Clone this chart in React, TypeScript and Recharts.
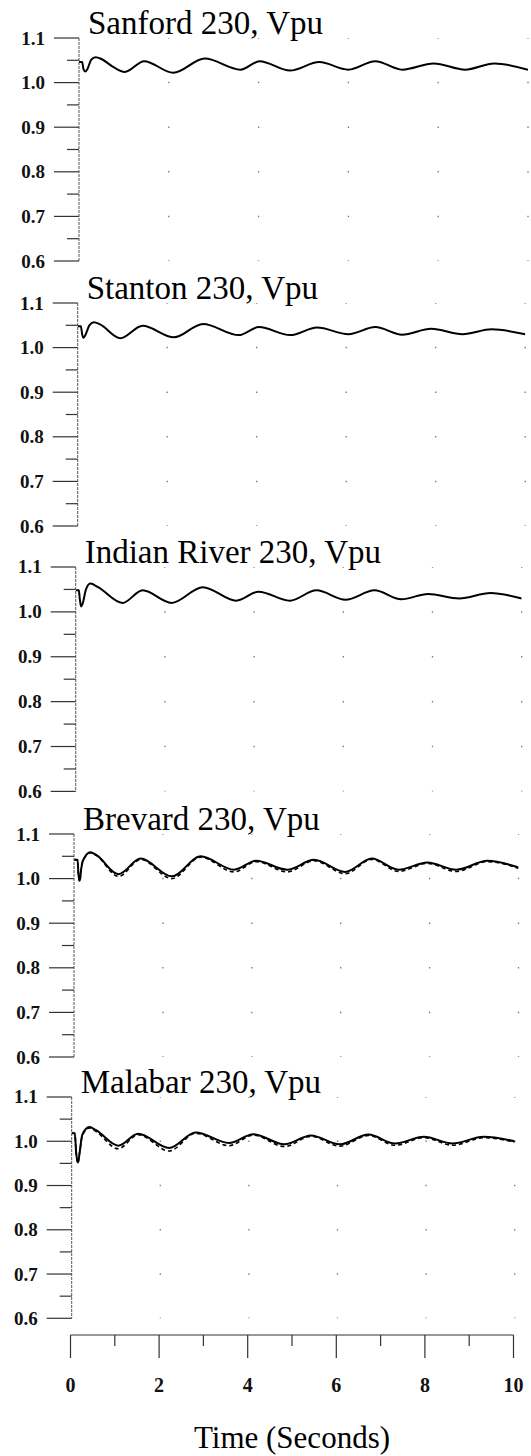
import React from "react";
import { ComposedChart, Line, XAxis, YAxis, ReferenceLine } from "recharts";

// ---- data (time in seconds, voltage in pu) ----
const timeTicks = [0, 1, 2, 3, 4, 5, 6, 7, 8, 9, 10];
const voltTicks = [0.6, 0.65, 0.7, 0.75, 0.8, 0.85, 0.9, 0.95, 1.0, 1.05, 1.1];
const gridTimes = [2, 4, 6, 8, 10];
const titles = ["Sanford 230, Vpu", "Stanton 230, Vpu", "Indian River 230, Vpu", "Brevard 230, Vpu", "Malabar 230, Vpu"];
const xTitle = "Time (Seconds)";

const sanford = [
  [0, 1.046], [0.07, 1.046], [0.1, 1.03], [0.14, 1.025], [0.19, 1.031], [0.27, 1.051], [0.37, 1.057], [0.5, 1.053],
  [0.75, 1.036], [1.02, 1.024], [1.45, 1.048], [2.1, 1.022], [2.8, 1.054], [3.6, 1.029], [4.02, 1.048],
  [4.7, 1.027], [5.35, 1.046], [6.0, 1.029], [6.6, 1.048], [7.2, 1.029], [7.9, 1.043], [8.6, 1.029],
  [9.25, 1.043], [10, 1.029],
];
const stanton = [
  [0, 1.048], [0.07, 1.048], [0.1, 1.03], [0.13, 1.022], [0.18, 1.03], [0.26, 1.05], [0.36, 1.057], [0.5, 1.052],
  [0.95, 1.021], [1.45, 1.049], [2.15, 1.023], [2.8, 1.053], [3.6, 1.028], [4.05, 1.046], [4.75, 1.028],
  [5.35, 1.045], [6.05, 1.03], [6.65, 1.046], [7.25, 1.029], [7.9, 1.042], [8.6, 1.03], [9.25, 1.041], [10, 1.03],
];
const indianRiver = [
  [0, 1.048], [0.07, 1.048], [0.09, 1.03], [0.12, 1.012], [0.16, 1.02], [0.23, 1.05], [0.33, 1.063], [0.5, 1.055],
  [1.05, 1.02], [1.5, 1.048], [2.15, 1.02], [2.85, 1.055], [3.6, 1.025], [4.1, 1.045], [4.8, 1.025],
  [5.4, 1.048], [6.05, 1.027], [6.7, 1.048], [7.3, 1.028], [7.9, 1.04], [8.6, 1.03], [9.3, 1.042], [10, 1.03],
];
const brevard = [
  [0, 1.042], [0.08, 1.042], [0.1, 1.01], [0.13, 0.995], [0.16, 1.02], [0.2, 1.04], [0.37, 1.059], [0.5, 1.053],
  [1.0, 1.01], [1.5, 1.045], [2.2, 1.005], [2.85, 1.05], [3.6, 1.02], [4.1, 1.04], [4.8, 1.02],
  [5.4, 1.042], [6.1, 1.015], [6.7, 1.045], [7.3, 1.02], [7.95, 1.036], [8.6, 1.02], [9.3, 1.04], [10, 1.025],
];
const brevardAlt = [
  [0, 1.042], [0.08, 1.042], [0.1, 1.01], [0.13, 0.993], [0.16, 1.02], [0.2, 1.04], [0.37, 1.058], [0.5, 1.052],
  [1.0, 1.005], [1.5, 1.043], [2.2, 1.0], [2.85, 1.048], [3.6, 1.015], [4.1, 1.038], [4.8, 1.015],
  [5.4, 1.04], [6.1, 1.011], [6.7, 1.043], [7.3, 1.016], [7.95, 1.034], [8.6, 1.016], [9.3, 1.038], [10, 1.023],
];
const malabar = [
  [0, 1.018], [0.07, 1.018], [0.1, 0.975], [0.14, 0.952], [0.18, 0.975], [0.24, 1.015], [0.4, 1.032], [0.55, 1.025],
  [1.05, 0.99], [1.5, 1.017], [2.2, 0.985], [2.8, 1.02], [3.55, 0.996], [4.1, 1.016], [4.8, 0.993],
  [5.4, 1.013], [6.05, 0.993], [6.7, 1.015], [7.3, 0.995], [7.95, 1.01], [8.6, 0.995], [9.3, 1.01], [10, 1.0],
];
const malabarAlt = [
  [0, 1.018], [0.07, 1.018], [0.1, 0.975], [0.14, 0.95], [0.18, 0.975], [0.24, 1.013], [0.4, 1.03], [0.55, 1.022],
  [1.05, 0.983], [1.5, 1.015], [2.2, 0.978], [2.8, 1.018], [3.55, 0.99], [4.1, 1.014], [4.8, 0.988],
  [5.4, 1.011], [6.05, 0.989], [6.7, 1.013], [7.3, 0.991], [7.95, 1.008], [8.6, 0.991], [9.3, 1.008], [10, 0.998],
];

const toPts = (a: number[][]) => a.map(([t, v]) => ({ t, v }));
const series = [
  { solid: sanford, dashed: null as number[][] | null },
  { solid: stanton, dashed: null },
  { solid: indianRiver, dashed: null },
  { solid: brevard, dashed: brevardAlt },
  { solid: malabar, dashed: malabarAlt },
];

// ---- layout ----
const PAGE_W = 531;
const tops = [37.7, 302.7, 567.3, 834, 1096.7];
const bottoms = [260.7, 525.7, 791.7, 1057, 1318];
const axisXs = [79, 77.7, 75.7, 74, 71.7];
const widths = [449, 447.5, 446, 444.5, 443];
const TOP_PAD = 45;
const BOTTOM_PAD = 16;
const SERIF = "Liberation Serif, Times New Roman, serif";

const YTick = (props: any) => {
  const { x, y, payload } = props;
  const v = payload.value as number;
  const major = Math.round(v * 20) % 2 === 0;
  return (
    <g>
      <line x1={x - (major ? 25 : 12)} x2={x} y1={y} y2={y} stroke="#333" strokeWidth={1.2} />
      {major && (
        <text x={x - 34} y={y} textAnchor="end" dominantBaseline="central" fontFamily={SERIF}
          fontWeight="bold" fontSize={19} fill="#111">
          {v.toFixed(1)}
        </text>
      )}
    </g>
  );
};

const XTick = (props: any) => {
  const { x, y, payload } = props;
  const v = payload.value as number;
  const major = v % 2 === 0;
  return (
    <g>
      <line x1={x} x2={x} y1={y} y2={y + (major ? 23 : 11)} stroke="#333" strokeWidth={1.2} />
      {major && (
        <text x={x} y={y + 50} textAnchor="middle" dominantBaseline="central" fontFamily={SERIF}
          fontWeight="bold" fontSize={20} fill="#111">
          {v}
        </text>
      )}
    </g>
  );
};

const Panel = ({ i }: { i: number }) => {
  const A = axisXs[i];
  const W = widths[i];
  const H = bottoms[i] - tops[i];
  const period = H / 5;
  const s = series[i];
  return (
    <div style={{ position: "absolute", left: 0, top: tops[i] - TOP_PAD }}>
      <ComposedChart width={PAGE_W} height={H + TOP_PAD + BOTTOM_PAD}
        margin={{ top: TOP_PAD, right: PAGE_W - A - W, bottom: BOTTOM_PAD, left: 0 }}>
        <XAxis type="number" dataKey="t" domain={[0, 10]} hide allowDataOverflow />
        <YAxis type="number" domain={[0.6, 1.1]} ticks={voltTicks} interval={0} width={A}
          tickLine={false} tickSize={0} tickMargin={0} tick={<YTick />}
          axisLine={{ stroke: "#555", strokeWidth: 1, strokeDasharray: "3 1" }} allowDataOverflow />
        {gridTimes.map((g) => (
          <ReferenceLine key={g} x={g} stroke="#777" strokeWidth={1.3}
            strokeDasharray={`1.5 ${period - 1.5}`} strokeDashoffset={0.75} />
        ))}
        {s.dashed && (
          <Line data={toPts(s.dashed)} dataKey="v" type="monotone" dot={false} stroke="#000"
            strokeWidth={1.6} strokeDasharray="4 3" isAnimationActive={false} />
        )}
        <Line data={toPts(s.solid)} dataKey="v" type="monotone" dot={false} stroke="#000"
          strokeWidth={2} isAnimationActive={false} />
      </ComposedChart>
    </div>
  );
};

export default function App() {
  const xA = 70.5;
  const xW = 443;
  return (
    <div style={{ position: "absolute", left: 0, top: 0, width: PAGE_W, height: 1456, background: "#fff" }}>
      {titles.map((_, i) => (
        <Panel key={i} i={i} />
      ))}
      <div style={{ position: "absolute", left: 0, top: 1334 }}>
        <ComposedChart width={PAGE_W} height={100} margin={{ top: 0, right: PAGE_W - xA - xW, bottom: 0, left: xA }}>
          <XAxis type="number" dataKey="t" domain={[0, 10]} ticks={timeTicks} interval={0} height={99}
            tickLine={false} tickSize={0} tickMargin={0} tick={<XTick />}
            axisLine={{ stroke: "#333", strokeWidth: 1.2 }} allowDataOverflow />
        </ComposedChart>
      </div>
      <svg width={PAGE_W} height={1456} style={{ position: "absolute", left: 0, top: 0, pointerEvents: "none" }}>
        {titles.map((t, i) => (
          <text key={t} x={axisXs[i] + 9} y={tops[i] - 4} fontFamily={SERIF} fontSize={33} fill="#000">
            {t}
          </text>
        ))}
        <text x={292} y={1448} textAnchor="middle" fontFamily={SERIF} fontSize={31} fill="#000">
          {xTitle}
        </text>
      </svg>
    </div>
  );
}
